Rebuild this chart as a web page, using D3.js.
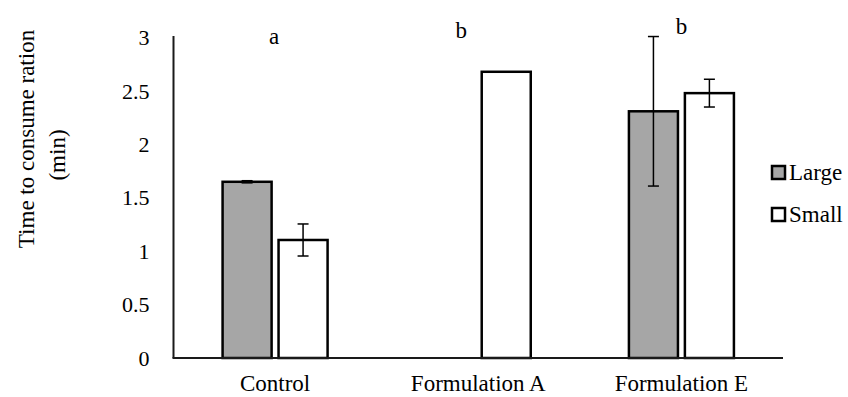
<!DOCTYPE html>
<html>
<head>
<meta charset="utf-8">
<script src="https://cdn.jsdelivr.net/npm/d3@7"></script>
<style>
  body { margin: 0; background: #fff; }
</style>
</head>
<body>
<div id="chart"></div>
<script>
const categories = ["Control", "Formulation A", "Formulation E"];
const seriesNames = ["Large", "Small"];
const largeMeans = [1.65, 0, 2.31];
const largeErrors = [0.01, 0, 0.70];
const smallMeans = [1.105, 2.68, 2.48];
const smallErrors = [0.15, 0, 0.13];
const groupLetters = ["a", "b", "b"];
const yTicks = [0, 0.5, 1, 1.5, 2, 2.5, 3];

const width = 848, height = 397;
const x0 = 173.5, x1 = 783, yTop = 37.6, yBase = 358;
const FONT = "'Liberation Serif'";

const svg = d3.select("#chart").append("svg")
  .attr("width", width)
  .attr("height", height)
  .style("font-family", FONT);

const xScale = d3.scaleBand()
  .domain(categories)
  .range([x0, x1])
  .padding(0);

const inner = d3.scaleBand()
  .domain(seriesNames)
  .range([-52.5, 52.5])
  .paddingInner(0.124);

const yScale = d3.scaleLinear()
  .domain([0, 3])
  .range([yBase, yTop]);

const fills = { Large: "#a6a6a6", Small: "#ffffff" };

// y tick labels (no tick marks)
svg.append("g")
  .attr("transform", `translate(${x0},0)`)
  .call(d3.axisLeft(yScale).tickValues(yTicks).tickSize(0).tickPadding(24).tickFormat(d3.format("")))
  .call(g => g.select(".domain").remove())
  .call(g => g.selectAll("text")
    .style("font-family", FONT)
    .style("font-size", "22px")
    .attr("fill", "#000"));

// bars
const rows = [];
categories.forEach((c, i) => {
  rows.push({ cat: c, s: "Large", v: largeMeans[i], e: largeErrors[i] });
  rows.push({ cat: c, s: "Small", v: smallMeans[i], e: smallErrors[i] });
});
const shown = rows.filter(d => d.v > 0);

svg.selectAll(".bar")
  .data(shown)
  .enter().append("rect")
  .attr("class", "bar")
  .attr("x", d => xScale(d.cat) + xScale.bandwidth() / 2 + inner(d.s))
  .attr("y", d => yScale(d.v))
  .attr("width", inner.bandwidth())
  .attr("height", d => yScale(0) - yScale(d.v))
  .attr("fill", d => fills[d.s])
  .attr("stroke", "#000")
  .attr("stroke-width", 2.5);

// error bars
const errs = shown.filter(d => d.e > 0);
const cx = d => xScale(d.cat) + xScale.bandwidth() / 2 + inner(d.s) + inner.bandwidth() / 2;
const eb = svg.append("g").attr("stroke", "#000").attr("stroke-width", 1.5);
eb.selectAll(".ev").data(errs).enter().append("line")
  .attr("x1", cx).attr("x2", cx)
  .attr("y1", d => yScale(d.v + d.e)).attr("y2", d => yScale(d.v - d.e));
eb.selectAll(".et").data(errs).enter().append("line")
  .attr("x1", d => cx(d) - 5.5).attr("x2", d => cx(d) + 5.5)
  .attr("y1", d => yScale(d.v + d.e)).attr("y2", d => yScale(d.v + d.e));
eb.selectAll(".eb").data(errs).enter().append("line")
  .attr("x1", d => cx(d) - 5.5).attr("x2", d => cx(d) + 5.5)
  .attr("y1", d => yScale(d.v - d.e)).attr("y2", d => yScale(d.v - d.e));

// axes lines
svg.append("line")
  .attr("x1", x0).attr("x2", x0)
  .attr("y1", 36).attr("y2", yBase)
  .attr("stroke", "#1a1a1a").attr("stroke-width", 2);
svg.append("line")
  .attr("x1", x0 - 1).attr("x2", x1)
  .attr("y1", yBase).attr("y2", yBase)
  .attr("stroke", "#1a1a1a").attr("stroke-width", 2);

// x labels
svg.selectAll(".xl")
  .data(categories)
  .enter().append("text")
  .attr("x", d => xScale(d) + xScale.bandwidth() / 2)
  .attr("y", 391)
  .attr("text-anchor", "middle")
  .style("font-family", FONT)
  .style("font-size", "23px")
  .text(d => d);

// significance letters
const letterShift = [-1, -17, 0];
const letterY = [44, 38, 34];
svg.selectAll(".lt")
  .data(groupLetters)
  .enter().append("text")
  .attr("x", (d, i) => xScale(categories[i]) + xScale.bandwidth() / 2 + letterShift[i])
  .attr("y", (d, i) => letterY[i])
  .attr("text-anchor", "middle")
  .style("font-family", FONT)
  .style("font-size", "23px")
  .text(d => d);

// y title
svg.append("text")
  .attr("transform", "translate(34,139) rotate(-90)")
  .attr("text-anchor", "middle")
  .style("font-family", FONT)
  .style("font-size", "23px")
  .text("Time to consume ration");
svg.append("text")
  .attr("transform", "translate(65,155) rotate(-90)")
  .attr("text-anchor", "middle")
  .style("font-family", FONT)
  .style("font-size", "23px")
  .text("(min)");

// legend
const legend = svg.append("g").attr("transform", "translate(772,0)");
const legY = [166, 208];
legend.selectAll("rect")
  .data(seriesNames)
  .enter().append("rect")
  .attr("x", 0)
  .attr("y", (d, i) => legY[i])
  .attr("width", 13)
  .attr("height", 13)
  .attr("fill", d => fills[d])
  .attr("stroke", "#000")
  .attr("stroke-width", 2.5);
legend.selectAll("text")
  .data(seriesNames)
  .enter().append("text")
  .attr("x", 17)
  .attr("y", (d, i) => legY[i] + 14)
  .style("font-family", FONT)
  .style("font-size", "23px")
  .text(d => d);
</script>
</body>
</html>
